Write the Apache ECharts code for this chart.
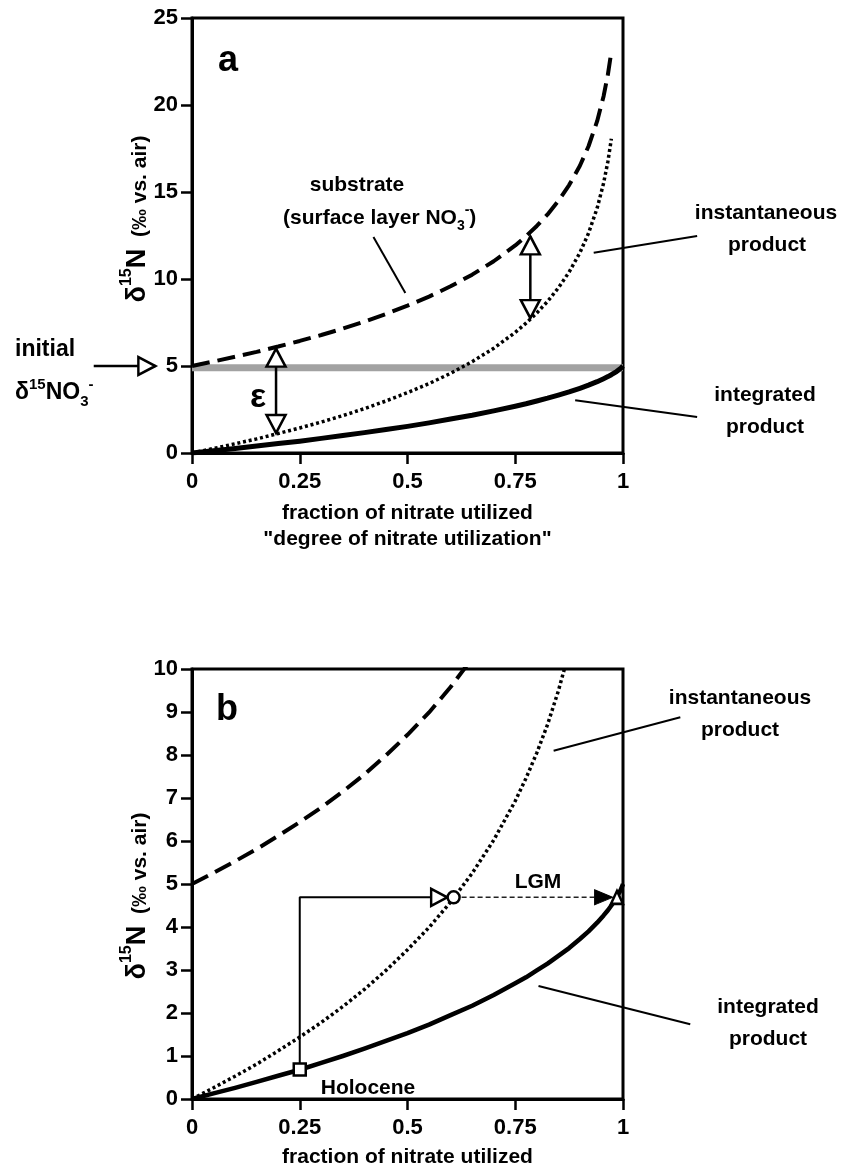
<!DOCTYPE html>
<html>
<head>
<meta charset="utf-8">
<script src="https://cdn.jsdelivr.net/npm/echarts@6/dist/echarts.min.js"></script>
<style>
  html, body { margin: 0; padding: 0; background: #fff; }
  #chart { width: 845px; height: 1171px; }
</style>
</head>
<body>
<div id="chart"></div>
<script>
const FONT = '"Liberation Sans", Arial, Helvetica, sans-serif';

// Fraction of nitrate utilized at which the substrate / instantaneous curves are sampled
const fCurve = [0, 0.05, 0.1, 0.15, 0.2, 0.25, 0.3, 0.35, 0.4, 0.45, 0.5, 0.55, 0.6, 0.65,
  0.7, 0.75, 0.775, 0.8, 0.825, 0.85, 0.875, 0.9, 0.92, 0.94, 0.955, 0.965, 0.973];
// δ15N of the remaining surface nitrate (‰)
const substrate = [5.00, 5.26, 5.53, 5.81, 6.12, 6.44, 6.78, 7.15, 7.55, 7.99, 8.47, 8.99, 9.58, 10.25,
  11.02, 11.93, 12.46, 13.05, 13.71, 14.49, 15.40, 16.51, 17.63, 19.07, 20.51, 21.76, 23.06];
// δ15N of the instantaneous product (‰)
const instantaneous = [0.00, 0.26, 0.53, 0.81, 1.12, 1.44, 1.78, 2.15, 2.55, 2.99, 3.47, 3.99, 4.58, 5.25,
  6.02, 6.93, 7.46, 8.05, 8.71, 9.49, 10.40, 11.51, 12.63, 14.07, 15.51, 16.76, 18.06];
// Integrated (accumulated) product
const fIntegrated = [0, 0.05, 0.1, 0.15, 0.2, 0.25, 0.3, 0.35, 0.4, 0.45, 0.5, 0.55, 0.6, 0.65,
  0.7, 0.75, 0.775, 0.8, 0.825, 0.85, 0.875, 0.9, 0.92, 0.94, 0.955, 0.965, 0.973, 0.985, 0.995, 1];
const integrated = [0.00, 0.13, 0.26, 0.40, 0.54, 0.68, 0.84, 1.00, 1.17, 1.35, 1.53, 1.73, 1.95, 2.17,
  2.42, 2.69, 2.83, 2.99, 3.15, 3.33, 3.51, 3.72, 3.90, 4.10, 4.27, 4.39, 4.50, 4.68, 4.87, 5.00];
// Initial δ15N of nitrate (grey band)
const initialNitrate = 4.9;

// Axis ticks
const xTicks = [0, 0.25, 0.5, 0.75, 1];
const yTicksA = [0, 5, 10, 15, 20, 25];
const yTicksB = [0, 1, 2, 3, 4, 5, 6, 7, 8, 9, 10];

// Epsilon arrows in panel a: [fraction, top (substrate), bottom (product)]
const epsArrowLow = [0.195, 6.0, 1.15];
const epsArrowHigh = [0.785, 12.45, 7.75];
// Initial nitrate arrow (left of the axis): tail and tip
const initialArrow = [[-0.228, 5.0], [-0.085, 5.0]];

// Leader lines for the labels: [[x0, y0], [x1, y1]]
const leadersA = [
  [[0.421, 12.41], [0.495, 9.19]],   // substrate
  [[0.932, 11.51], [1.172, 12.47]],  // instantaneous product
  [[0.889, 3.03], [1.172, 2.07]]     // integrated product
];
const leadersB = [
  [[0.839, 8.10], [1.133, 8.88]],    // instantaneous product
  [[0.804, 2.63], [1.156, 1.74]]     // integrated product
];

// Holocene -> LGM scenario in panel b
const holocene = [0.25, 0.685];
const lgmLevel = 4.69;
const lgmInstantF = 0.607;   // instantaneous product reaches the Holocene sediment value
const lgmOpenArrowF = 0.592;
const lgmFilledArrowF = 0.976;
const lgmIntegratedF = 0.986;

const zip = (xs, ys) => xs.map((x, i) => [x, ys[i]]);

function axisPair(idx, ticks) {
  return {
    x: {
      type: 'value', gridIndex: idx, min: xTicks[0], max: xTicks[xTicks.length - 1],
      interval: xTicks[1] - xTicks[0],
      axisLine: { show: true, lineStyle: { color: '#000', width: 3 } },
      axisTick: { show: true, inside: false, length: 11, lineStyle: { color: '#000', width: 2.5 } },
      axisLabel: { color: '#000', fontSize: 22, fontWeight: 'bold', fontFamily: FONT, margin: 18,
        formatter: v => String(v) },
      splitLine: { show: false }
    },
    y: {
      type: 'value', gridIndex: idx, min: ticks[0], max: ticks[ticks.length - 1],
      interval: ticks[1] - ticks[0],
      axisLine: { show: true, lineStyle: { color: '#000', width: 3 } },
      axisTick: { show: true, inside: false, length: 11, lineStyle: { color: '#000', width: 2.5 } },
      axisLabel: { color: '#000', fontSize: 22, fontWeight: 'bold', fontFamily: FONT, margin: 14 },
      splitLine: { show: false }
    }
  };
}
const axA = axisPair(0, yTicksA);
const axB = axisPair(1, yTicksB);
const nameStyle = { color: '#000', fontSize: 21, fontWeight: 'bold', fontFamily: FONT, lineHeight: 26 };
Object.assign(axA.x, { name: 'fraction of nitrate utilized\n"degree of nitrate utilization"',
  nameLocation: 'middle', nameGap: 47, nameTextStyle: nameStyle });
Object.assign(axB.x, { name: 'fraction of nitrate utilized',
  nameLocation: 'middle', nameGap: 45, nameTextStyle: nameStyle });

const base = { type: 'line', symbol: 'none', silent: true, animation: false, emphasis: { disabled: true } };

function curves(i, intWidth) {
  return [
    Object.assign({}, base, { xAxisIndex: i, yAxisIndex: i, z: 3, data: zip(fCurve, substrate),
      lineStyle: { color: '#000', width: 4, type: [18, 8], cap: 'butt' } }),
    Object.assign({}, base, { xAxisIndex: i, yAxisIndex: i, z: 3, data: zip(fCurve, instantaneous),
      lineStyle: { color: '#000', width: 3.5, type: [3, 2.8], cap: 'butt' } }),
    Object.assign({}, base, { xAxisIndex: i, yAxisIndex: i, z: 3, data: zip(fIntegrated, integrated),
      lineStyle: { color: '#000', width: intWidth, join: 'round' } })
  ];
}

// Straight annotation segments placed through the axes' scales (not clipped to the plot)
function segments(i, segs, width) {
  return {
    type: 'custom', xAxisIndex: i, yAxisIndex: i, silent: true, animation: false, z: 4, clip: false,
    data: segs.map(s => [s[0][0], s[0][1], s[1][0], s[1][1]]),
    encode: { x: [0, 2], y: [1, 3] },
    renderItem: (params, api) => {
      const p0 = api.coord([api.value(0), api.value(1)]);
      const p1 = api.coord([api.value(2), api.value(3)]);
      return { type: 'line', shape: { x1: p0[0], y1: p0[1], x2: p1[0], y2: p1[1] },
        style: { stroke: '#000', lineWidth: width, fill: null } };
    }
  };
}

const openTri = { color: '#fff', borderColor: '#000', borderWidth: 2.5 };

function epsArrow(a) {
  const [f, top, bottom] = a;
  return Object.assign({}, base, {
    xAxisIndex: 0, yAxisIndex: 0, z: 6, clip: false, showSymbol: true,
    itemStyle: openTri,
    lineStyle: { color: '#000', width: 2.5 },
    data: [
      { value: [f, top], symbol: 'triangle', symbolSize: [19, 18], symbolOffset: [0, 9] },
      { value: [f, bottom], symbol: 'triangle', symbolSize: [19, 18], symbolRotate: 180, symbolOffset: [0, -9] }
    ]
  });
}

const series = [
  // panel a
  Object.assign({}, base, { xAxisIndex: 0, yAxisIndex: 0, z: 2,
    data: [[xTicks[0], initialNitrate], [xTicks[xTicks.length - 1], initialNitrate]],
    lineStyle: { color: '#a2a2a2', width: 7 } }),
  ...curves(0, 5),
  epsArrow(epsArrowLow),
  epsArrow(epsArrowHigh),
  segments(0, [initialArrow], 2.5),
  Object.assign({}, base, {
    xAxisIndex: 0, yAxisIndex: 0, z: 6, clip: false, showSymbol: true, itemStyle: openTri,
    data: [
      { value: initialArrow[1], symbol: 'triangle', symbolSize: [18, 17], symbolRotate: -90, symbolOffset: [-8.5, 0] }
    ]
  }),
  segments(0, leadersA, 2),
  // panel b
  ...curves(1, 4.5),
  segments(1, leadersB, 2),
  Object.assign({}, base, {
    xAxisIndex: 1, yAxisIndex: 1, z: 6, clip: false, showSymbol: true, itemStyle: openTri,
    lineStyle: { color: '#000', width: 2 },
    data: [
      { value: holocene, symbol: 'rect', symbolSize: 12 },
      { value: [holocene[0], lgmLevel], symbol: 'none' },
      { value: [lgmOpenArrowF, lgmLevel], symbol: 'triangle', symbolSize: [17, 16], symbolRotate: -90, symbolOffset: [-8, 0] }
    ]
  }),
  Object.assign({}, base, {
    xAxisIndex: 1, yAxisIndex: 1, z: 5, clip: false, showSymbol: true,
    lineStyle: { color: '#222', width: 1.5, type: [5, 3] },
    itemStyle: { color: '#000', borderColor: '#000', borderWidth: 1 },
    data: [
      { value: [lgmInstantF, lgmLevel], symbol: 'none' },
      { value: [lgmFilledArrowF, lgmLevel], symbol: 'triangle', symbolSize: [15, 18], symbolRotate: -90, symbolOffset: [-9, 0] }
    ]
  }),
  Object.assign({}, base, {
    xAxisIndex: 1, yAxisIndex: 1, z: 7, clip: false, showSymbol: true, itemStyle: openTri,
    data: [
      { value: [lgmInstantF, lgmLevel], symbol: 'circle', symbolSize: 12 },
      { value: [lgmIntegratedF, lgmLevel], symbol: 'triangle', symbolSize: [12, 13] }
    ],
    lineStyle: { width: 0 }
  })
];

const txt = (x, y, text, size, extra) => ({
  type: 'text', x, y, silent: true,
  style: Object.assign({ text, fill: '#000', fontSize: size, fontWeight: 'bold', fontFamily: FONT,
    align: 'center', verticalAlign: 'middle' }, extra || {})
});
const scripts = size => ({
  sup: { fontSize: size, fontWeight: 'bold', fontFamily: FONT, verticalAlign: 'top', lineHeight: size },
  sub: { fontSize: size, fontWeight: 'bold', fontFamily: FONT, verticalAlign: 'bottom', lineHeight: size }
});

function yTitle(x, y) {
  return {
    type: 'text', x, y, rotation: Math.PI / 2, silent: true,
    style: {
      text: '{d|δ}{s|15}{d|N}{p|  (‰ vs. air)}',
      fill: '#000', align: 'center', verticalAlign: 'middle',
      rich: {
        d: { fontSize: 27, fontWeight: 'bold', fontFamily: FONT, lineHeight: 32, verticalAlign: 'bottom' },
        s: { fontSize: 16, fontWeight: 'bold', fontFamily: FONT, lineHeight: 16, verticalAlign: 'top' },
        p: { fontSize: 21, fontWeight: 'bold', fontFamily: FONT, lineHeight: 28, verticalAlign: 'bottom' }
      }
    }
  };
}

const graphic = [
  txt(228, 61, 'a', 36),
  txt(227, 710, 'b', 36),
  txt(357, 185, 'substrate', 21),
  {
    type: 'text', x: 283, y: 218, silent: true,
    style: {
      text: '{m|(surface layer NO}{sub|3}{sup|-}{m|)}', fill: '#000', align: 'left', verticalAlign: 'middle',
      rich: Object.assign({ m: { fontSize: 21, fontWeight: 'bold', fontFamily: FONT, lineHeight: 30 } }, scripts(14))
    }
  },
  txt(766, 213, 'instantaneous', 21),
  txt(767, 245, 'product', 21),
  txt(765, 395, 'integrated', 21),
  txt(765, 427, 'product', 21),
  txt(258, 398, 'ε', 34),
  txt(15, 350, 'initial', 23, { align: 'left' }),
  {
    type: 'text', x: 15, y: 393, silent: true,
    style: {
      text: '{m|δ}{sup|15}{m|NO}{sub|3}{sup|-}', fill: '#000', align: 'left', verticalAlign: 'middle',
      rich: Object.assign({ m: { fontSize: 23, fontWeight: 'bold', fontFamily: FONT, lineHeight: 32 } }, scripts(15))
    }
  },
  yTitle(135, 219),
  yTitle(135, 896),
  txt(740, 698, 'instantaneous', 21),
  txt(740, 730, 'product', 21),
  txt(768, 1007, 'integrated', 21),
  txt(768, 1039, 'product', 21),
  txt(538, 882, 'LGM', 21),
  txt(368, 1088, 'Holocene', 21)
];

const chart = echarts.init(document.getElementById('chart'), null, { renderer: 'canvas' });
chart.setOption({
  animation: false,
  backgroundColor: '#fff',
  grid: [
    { left: 192, top: 18, width: 431, height: 435, show: true, borderColor: '#000', borderWidth: 3, backgroundColor: 'transparent' },
    { left: 192, top: 669, width: 431, height: 433, show: true, borderColor: '#000', borderWidth: 3, backgroundColor: 'transparent' }
  ],
  xAxis: [axA.x, axB.x],
  yAxis: [axA.y, axB.y],
  series,
  graphic
});
</script>
</body>
</html>
